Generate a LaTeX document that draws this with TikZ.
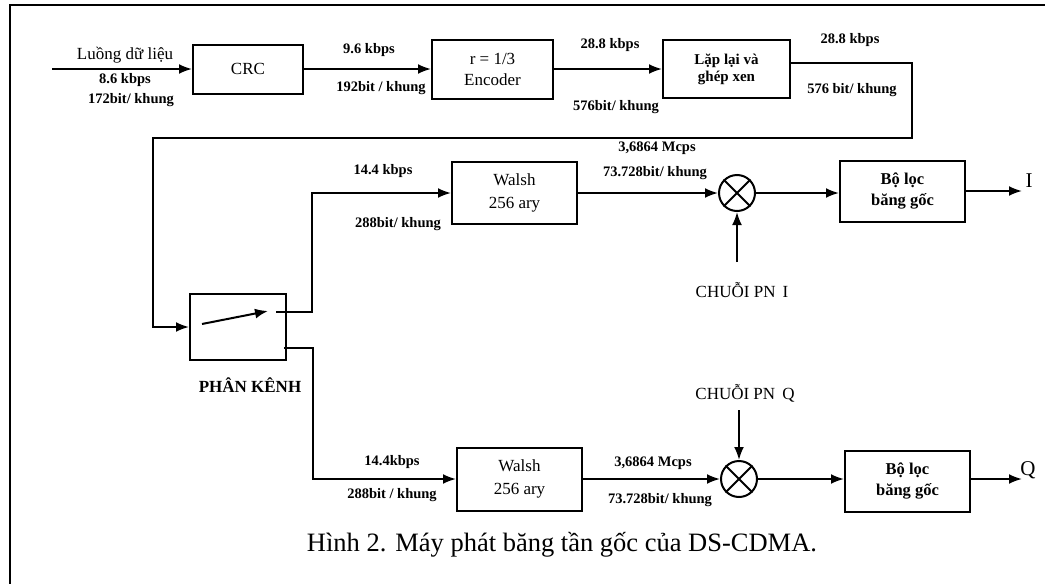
\documentclass[tikz,border=0pt]{standalone}
\usepackage{fontspec}
\setmainfont{Liberation Serif}
\usetikzlibrary{arrows.meta,calc}
\tikzset{
  blk/.style={draw, line width=2pt, inner sep=0pt, align=center},
  lbl/.style={font=\bfseries\fontsize{14.5}{16}\selectfont, inner sep=0pt},
  txt/.style={font=\fontsize{17}{20}\selectfont, inner sep=0pt},
  conn/.style={line width=2pt},
  arr/.style={conn, -{Latex[length=13pt,width=10pt]}},
  mix/.style={draw, circle, line width=2pt, minimum size=36pt, inner sep=0pt},
  frame/.style={line width=2.6pt},
}
\begin{document}
\begin{tikzpicture}[x=1pt,y=-1pt]
\useasboundingbox (0,0) rectangle (1045,584);
% frame
\draw[frame] (1045,5) -- (10,5) -- (10,584);

% top row blocks
\node[blk, minimum width=110pt, minimum height=49pt, font=\fontsize{17}{20}\selectfont] (crc) at (248,69) {CRC};
\node[blk, minimum width=121pt, minimum height=59pt, font=\fontsize{17}{21}\selectfont] (enc) at (492.5,69) {r = 1/3\\Encoder};
\node[blk, minimum width=127pt, minimum height=58pt, font=\bfseries\fontsize{15}{17}\selectfont] (lap) at (726.5,69) {Lặp lại và\\ghép xen};

\coordinate (in) at (52,69);
\draw[arr] (in) -- (crc.west);
\draw[arr] (crc.east) -- (enc.west);
\draw[arr] (enc.east) -- (lap.west);

\node[txt] (l0) at (125,55) {Luồng dữ liệu};
\node[lbl] (l1) at (125,80) {8.6 kbps};
\node[lbl] (l2) at (131,100) {172bit/ khung};
\node[lbl] (l3) at (369,50) {9.6 kbps};
\node[lbl] (l4) at (381,88) {192bit / khung};
\node[lbl] (l5) at (610,45) {28.8 kbps};
\node[lbl] (l6) at (616,107) {576bit/ khung};
\node[lbl] (l7) at (850,40) {28.8 kbps};
\node[lbl] (l8) at (852,90) {576 bit/ khung};

% demux
\node[blk, minimum width=96pt, minimum height=66pt] (dmx) at (238,327) {};
\node[font=\bfseries\fontsize{17}{19}\selectfont, inner sep=0pt] (dmxl) at (250,385) {PHÂN KÊNH};
\coordinate (r1) at (912,63);
\coordinate (r2) at (912,138);
\coordinate (r3) at (153,138);
\coordinate (r4) at (153,327);
\draw[arr] (lap.east |- r1) -- (r1) -- (r2) -- (r3) -- (r4) -- (dmx.west);
\coordinate (sw1) at (202,324);
\coordinate (sw2) at (268,311);
\draw[arr] (sw1) -- (sw2);
\coordinate (o1) at (276,312);
\coordinate (o1b) at (312,312);
\coordinate (o2) at (284,348);
\coordinate (o2b) at (313,348);

% upper branch
\node[blk, minimum width=125pt, minimum height=62pt, font=\fontsize{17}{23}\selectfont] (w1) at (514.5,193) {Walsh\\256 ary};
\node[mix] (m1) at (737,193) {};
\draw[line width=2pt] (m1.north east) -- (m1.south west) (m1.north west) -- (m1.south east);
\node[blk, minimum width=125pt, minimum height=61pt, font=\bfseries\fontsize{16.5}{21}\selectfont] (f1) at (902.5,191) {Bộ lọc\\băng gốc};
\coordinate (outI) at (1022,191);
\coordinate (pnI) at (737,262);
\draw[arr] (o1) -- (o1b) -- (o1b |- w1.west) -- (w1.west);
\draw[arr] (w1.east) -- (m1.west);
\draw[arr] (m1.east) -- (f1.west |- m1.east);
\draw[arr] (f1.east) -- (outI);
\draw[arr] (pnI) -- (m1.south);
\node[font=\fontsize{21}{23}\selectfont, inner sep=0pt] (I) at (1029,181) {I};
\node[txt] (pnIl) at (742,290) {CHUỖI PN\, I};
\node[lbl] (u1) at (383,171) {14.4 kbps};
\node[lbl] (u2) at (398,224) {288bit/ khung};
\node[lbl] (u3) at (657,148) {3,6864 Mcps};
\node[lbl] (u4) at (655,173) {73.728bit/ khung};

% lower branch
\node[blk, minimum width=125pt, minimum height=63pt, font=\fontsize{17}{23}\selectfont] (w2) at (519.5,479) {Walsh\\256 ary};
\node[mix] (m2) at (739,479) {};
\draw[line width=2pt] (m2.north east) -- (m2.south west) (m2.north west) -- (m2.south east);
\node[blk, minimum width=125pt, minimum height=61pt, font=\bfseries\fontsize{16.5}{21}\selectfont] (f2) at (907.5,481) {Bộ lọc\\băng gốc};
\coordinate (outQ) at (1022,479);
\coordinate (pnQ) at (739,410);
\draw[arr] (o2) -- (o2b) -- (o2b |- w2.west) -- (w2.west);
\draw[arr] (w2.east) -- (m2.west);
\draw[arr] (m2.east) -- (f2.west |- m2.east);
\draw[arr] (f2.east |- outQ) -- (outQ);
\draw[arr] (pnQ) -- (m2.north);
\node[font=\fontsize{21}{23}\selectfont, inner sep=0pt] (Q) at (1028,470) {Q};
\node[txt] (pnQl) at (745,393) {CHUỖI PN\, Q};
\node[lbl] (d1) at (392,462) {14.4kbps};
\node[lbl] (d2) at (392,495) {288bit / khung};
\node[lbl] (d3) at (653,463) {3,6864 Mcps};
\node[lbl] (d4) at (660,500) {73.728bit/ khung};

% caption
\node[font=\fontsize{26.5}{30}\selectfont, inner sep=0pt] (cap) at (562,545) {Hình 2. Máy phát băng tần gốc của DS-CDMA.};
\end{tikzpicture}
\end{document}
